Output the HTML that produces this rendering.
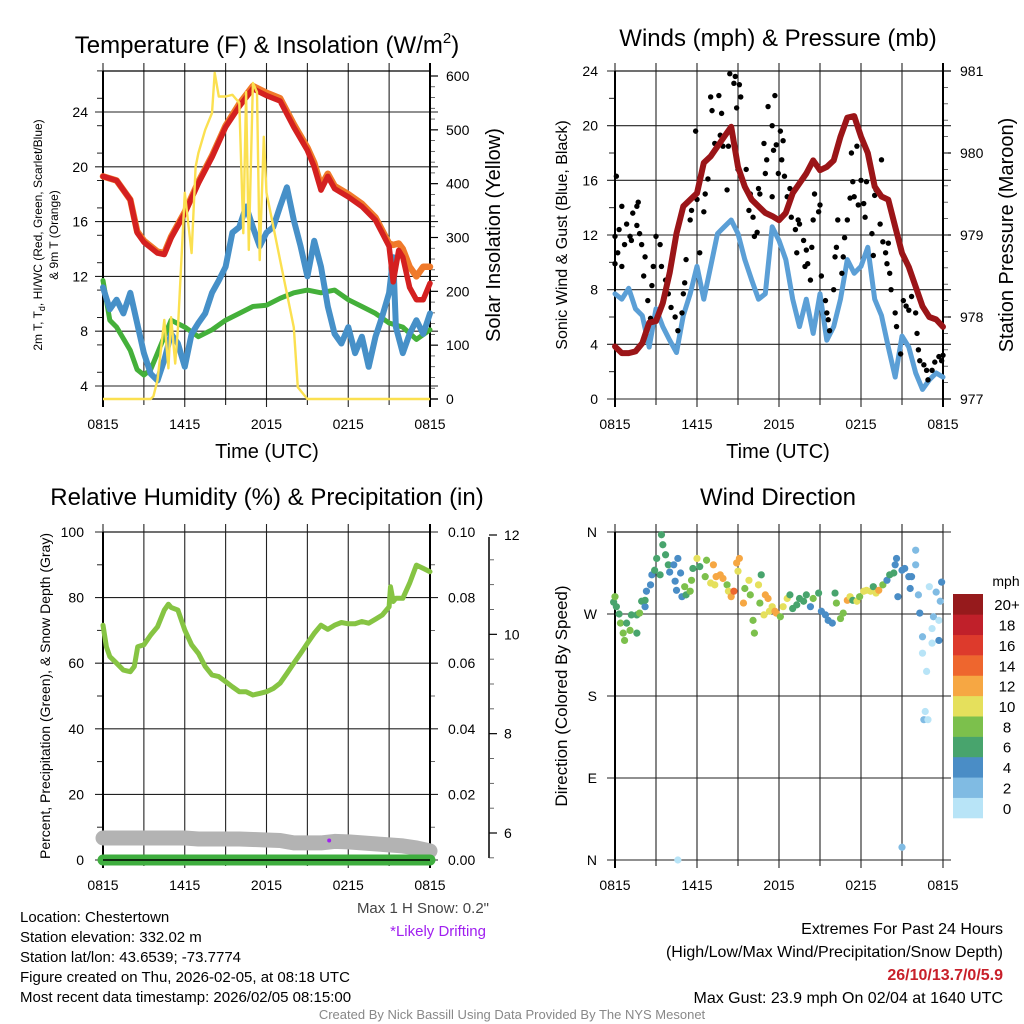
<!DOCTYPE html>
<html><head><meta charset="utf-8">
<style>
html,body{margin:0;padding:0;background:#fff;}
svg{display:block;font-family:"Liberation Sans",Arial,sans-serif;}
</style></head>
<body>
<svg id="fig" width="1024" height="1024" viewBox="0 0 1024 1024" xmlns="http://www.w3.org/2000/svg">
<rect width="1024" height="1024" fill="#fff"/>
<g id="p1"></g>
<g id="p2"></g>
<g id="p3"></g>
<g id="p4"></g>
<g id="txt">
<text x="20" y="922" font-size="15">Location: Chestertown</text>
<text x="20" y="942" font-size="15">Station elevation: 332.02 m</text>
<text x="20" y="962" font-size="15">Station lat/lon: 43.6539; -73.7774</text>
<text x="20" y="982" font-size="15">Figure created on Thu, 2026-02-05, at 08:18 UTC</text>
<text x="20" y="1002" font-size="15">Most recent data timestamp: 2026/02/05 08:15:00</text>
<text x="489" y="913" font-size="15" fill="#444" text-anchor="end">Max 1 H Snow: 0.2"</text>
<text x="486" y="936" font-size="15" fill="#a020f0" text-anchor="end">*Likely Drifting</text>
<text x="1003" y="934" font-size="16" text-anchor="end">Extremes For Past 24 Hours</text>
<text x="1003" y="957" font-size="16" text-anchor="end">(High/Low/Max Wind/Precipitation/Snow Depth)</text>
<text x="1003" y="980" font-size="16" font-weight="bold" fill="#c8202a" text-anchor="end">26/10/13.7/0/5.9</text>
<text x="1003" y="1003" font-size="16" text-anchor="end">Max Gust: 23.9 mph On 02/04 at 1640 UTC</text>
<text x="512" y="1019" font-size="13" fill="#888" text-anchor="middle">Created By Nick Bassill Using Data Provided By The NYS Mesonet</text>
</g>
</svg>
<script>
// ---------- data ----------
const xTickLabels = ["0815","1415","2015","0215","0815"];
// Panel 1: temperature (F)
const tHours = [0,1,2,2.5,3,4,4.5,5,6,7,8,9,10,11,12,13,14,15,15.5,16,16.5,17,18,19,20,21,21.3,21.7,22,22.5,23,23.5,24];
const tempRed = [19.3,19.0,17.6,15.2,14.5,13.7,13.6,14.8,16.6,18.8,20.7,22.9,24.4,25.7,25.2,24.8,22.9,21.2,20.0,18.3,19.3,18.4,17.8,17.1,16.1,14.2,11.6,13.9,13.4,11.2,10.3,10.3,11.5];
const temp9m = [19.3,19.0,17.6,15.3,14.6,13.8,13.7,14.9,16.7,18.9,20.8,23.0,24.6,25.9,25.4,25.0,23.1,21.4,20.3,18.6,19.5,18.6,18.0,17.3,16.3,14.4,14.3,14.4,14.0,12.7,12.0,12.7,12.7];
const dHours = [0,0.5,1,2,2.5,3,3.5,4,5,6,7,8,9,10,11,12,13,14,15,16,17,18,19,20,21,22,23,24];
const dewGreen = [11.7,8.8,8.3,6.6,5.2,4.8,5.2,6.4,8.8,8.3,7.6,8.1,8.8,9.3,9.8,9.9,10.4,10.8,11.0,10.8,11.0,10.3,9.8,9.3,8.6,8.3,7.4,8.1];
const wcHours = [0,0.5,1,1.5,2,2.5,3,3.5,4,4.5,5,5.5,6,6.5,7,7.5,8,8.5,9,9.5,10,10.5,11,11.5,12,12.5,13,13.5,14,14.5,15,15.5,16,16.5,17,17.5,18,18.5,19,19.5,20,20.5,21,21.3,21.5,22,22.5,23,23.5,24];
const wcBlue = [11.2,9.6,10.3,9.3,10.8,8.6,6.4,4.9,4.4,5.9,7.8,7.1,5.4,7.8,8.6,9.3,10.8,11.7,12.7,15.2,15.6,17.1,15.6,14.2,15.2,15.6,17.1,18.5,16.1,14.2,12.0,14.6,12.7,9.8,7.8,7.1,8.3,6.4,7.6,5.4,7.6,9.1,10.8,13.4,8.3,6.4,7.8,8.8,7.8,9.3];
const solHours = [0,3.5,3.7,4,4.5,4.8,5,5.3,5.5,6,6.5,6.8,7,7.5,8,8.2,8.5,9,9.5,10,10.3,10.5,10.7,11,11.3,11.5,11.8,12,13,14,14.3,15,24];
const solar = [0,0,5,35,147,57,152,66,130,383,271,431,457,500,531,606,562,562,565,550,308,570,277,587,570,258,487,383,258,133,22,0,0];
const p1Left = [4,8,12,16,20,24];
const p1Right = [0,100,200,300,400,500,600];
// Panel 2: wind (mph) & pressure (mb)
const pHours = [0,0.5,1,1.5,2,2.5,3,3.5,4,4.5,5,5.5,6,6.5,7,7.5,8,8.5,9,9.5,10,10.5,11,11.5,12,12.5,13,13.5,14,14.5,15,15.5,16,16.5,17,17.5,18,18.5,19,19.5,20,20.5,21,21.5,22,22.5,23,23.5,24];
const pressure = [977.64,977.56,977.56,977.58,977.68,977.93,977.95,978.17,978.54,979.02,979.35,979.43,979.51,979.88,979.96,980.08,980.2,980.32,979.83,979.59,979.43,979.35,979.27,979.23,979.18,979.27,979.51,979.63,979.75,979.91,979.79,979.83,979.91,980.2,980.43,980.45,980.2,980.0,979.59,979.47,979.43,979.1,978.78,978.61,978.37,978.13,978.0,977.97,977.88];
const windSonic = [7.7,7.3,8.1,6.6,6.1,3.8,6.6,5.3,4.3,3.4,6.1,7.7,9.7,7.3,9.7,12.1,12.6,13.1,12.1,10.2,8.7,7.3,7.7,12.6,11.6,10.2,7.3,5.3,7.3,4.8,7.7,4.3,5.3,7.3,10.2,9.2,9.7,11.1,7.3,6.1,3.8,1.6,4.6,3.8,1.9,0.7,1.4,1.9,1.6];
const gustHours = [0,0.1,0,0.2,0.3,0.5,0.5,0.7,0.85,1.1,1.2,1.3,1.6,1.7,1.6,1.95,1.8,2.2,2.1,2.4,2.6,2.7,3.0,2.8,3.3,3.4,3.7,3.9,4.1,4.4,4.6,4.9,5.0,5.1,5.2,5.5,5.6,5.9,6.0,6.2,6.5,6.6,6.8,7.0,7.1,7.3,7.6,7.7,7.8,7.9,8.2,8.3,8.5,8.4,8.7,8.8,8.9,9.1,9.2,8.8,9.0,9.6,9.8,9.9,10.1,10.2,10.4,10.5,10.6,10.9,11.0,11.1,11.2,11.5,11.5,11.6,11.7,11.8,11.95,12.1,12.2,12.3,12.4,12.6,12.8,12.9,13.2,13.3,13.4,13.5,13.8,13.9,14.0,14.1,14.3,14.4,14.5,14.6,14.9,15.0,15.1,15.4,15.5,15.6,15.7,16.0,16.1,16.2,16.3,16.6,16.7,16.8,17.0,17.2,17.3,17.4,17.5,17.7,17.8,18.0,18.2,18.3,18.4,18.7,18.8,18.9,19.0,19.1,19.4,19.5,19.6,19.8,19.9,20.0,20.1,20.2,20.5,20.6,20.9,21.1,21.3,21.5,21.7,22.0,22.1,22.2,22.3,22.6,22.8,22.9,23.2,23.4,23.7,23.9,24.0];
const gusts = [9.9,16.3,11.9,10.7,12.4,9.7,14.1,11.3,12.8,11.9,11.6,13.6,14.1,14.4,12.7,11.3,12.1,10.4,9.0,7.2,5.9,8.3,11.9,9.7,11.3,9.7,8.7,7.7,6.7,6.0,5.0,6.3,7.7,8.5,10.2,13.1,13.8,19.6,14.6,10.7,13.7,15.0,16.1,22.1,21.1,18.7,22.2,19.3,20.9,18.5,15.3,18.5,19.9,23.8,23.1,23.6,21.3,23.0,22.1,18.3,16.8,16.8,13.8,15.0,13.3,11.9,12.2,15.4,15.0,18.7,16.5,17.5,21.4,20.0,14.8,18.2,22.2,18.6,16.5,19.6,17.5,18.9,16.3,14.8,15.4,13.3,12.4,10.7,13.1,12.8,11.6,9.7,10.9,9.9,8.7,11.1,13.1,15.0,13.7,14.2,9.0,7.2,6.3,5.8,5.0,8.0,10.4,11.1,13.1,9.2,10.4,11.8,13.1,14.7,18.0,15.9,14.8,18.5,14.2,16.0,14.3,13.3,15.9,17.0,12.1,10.5,14.9,15.3,12.8,17.5,11.5,10.7,9.9,11.4,9.2,8.0,6.3,5.3,3.3,7.2,6.8,6.5,7.5,6.3,4.8,3.6,2.8,2.5,2.1,1.4,2.1,2.7,3.1,2.8,3.2];
const p2Left = [0,4,8,12,16,20,24];
const p2Right = [977,978,979,980,981];
// Panel 3: RH (%), precip (in), snow depth (in)
const rhHours = [0,0.25,0.5,1,1.5,2,2.3,2.55,3,3.5,4,4.5,4.8,5,5.5,6,6.5,7,7.5,8,8.5,9,9.5,10,10.5,11,11.5,12,12.5,13,13.5,14,14.5,15,15.5,16,16.5,17,17.5,18,18.5,19,19.5,20,20.5,21,21.1,21.3,21.5,22,22.5,23,23.5,24];
const rh = [71.6,65.0,62,60,57.9,57.4,59,65,65.6,68.6,71.1,76.2,78,77,76.2,70.1,65.6,63,59,56.4,55.9,54.4,52.8,51.3,51.3,50.3,50.8,51.3,52.3,53.9,56.9,60,63,66.1,69.1,71.6,70.3,71.6,72.4,72,72,72.7,72.2,73.4,74.7,77.2,83.3,78.8,79.8,79.8,84.4,89.9,88.9,87.9];
const snowHours = [0,1,2,3,4,5,6,7,8,9,10,11,12,13,14,15,16,17,18,19,20,21,22,23,24];
const snowDepth = [5.9,5.9,5.9,5.9,5.9,5.9,5.9,5.88,5.88,5.88,5.88,5.87,5.86,5.85,5.8,5.8,5.8,5.83,5.82,5.8,5.78,5.76,5.74,5.7,5.64];
const precipHours = [0,24];
const precip = [0,0];
const driftHour = [16.6];
const driftDepth = [5.85];
const p3Left = [0,20,40,60,80,100];
const p3Right = ["0.00","0.02","0.04","0.06","0.08","0.10"];
const p3Snow = [6,8,10,12];
// Panel 4: wind direction (deg) coloured by speed (mph)
const dirHours = [-0.1,0,0.1,0.3,0.4,0.6,0.7,0.85,1.1,1.2,1.6,1.6,1.8,1.95,2.2,2.2,2.3,2.6,2.7,2.9,3.05,3.3,3.4,3.5,3.7,3.9,4.0,4.3,4.4,4.6,4.5,4.9,4.8,5.1,5.2,5.5,5.6,5.7,6.0,6.2,6.6,6.7,7.0,7.2,7.3,7.4,7.7,7.9,8.2,8.3,8.5,8.7,8.9,9.1,9.0,9.4,9.5,9.8,9.9,10.1,10.2,10.5,10.7,10.6,11.0,11.2,11.3,11.5,10.9,11.7,11.8,12.1,12.3,12.6,12.8,13.0,13.3,13.5,13.8,14.0,14.3,14.5,14.9,15.1,15.4,15.6,15.9,16.1,16.2,16.5,16.7,17.0,17.2,17.4,17.7,17.9,18.2,18.4,18.7,18.9,19.1,19.3,19.6,19.9,20.1,20.4,20.5,20.6,20.7,21.0,21.2,21.5,21.7,21.6,22.0,22.0,22.2,22.3,22.5,22.5,22.8,22.7,22.6,22.9,23.0,23.2,23.3,23.2,23.5,23.7,23.7,23.8,23.9,21.0,4.6];
const dirDeg = [283,289,278,270,260,249,241,260,252,269,269,249,271,284,278,285,295,302,313,318,331,313,357,346,335,324,316,324,306,331,296,289,315,300,291,295,307,320,331,322,311,329,304,324,302,311,313,309,302,295,289,295,326,331,317,282,298,307,291,263,249,302,313,282,291,287,273,278,269,273,271,267,278,287,291,276,280,287,284,291,278,287,293,273,269,263,260,293,282,265,271,285,289,285,284,289,295,296,295,300,293,296,302,307,313,315,324,331,289,318,320,311,311,298,340,324,291,271,245,227,207,163,154,154,300,254,267,238,294,263,241,284,305,14,0];
const dirSpeed = [7,9,7,7,9,9,9,7,9,7,7,7,9,7,5,7,5,5,5,7,7,7,7,7,7,7,5,5,5,5,5,5,5,9,7,9,9,7,11,7,9,9,11,13,11,13,13,13,9,11,13,15,13,13,11,13,9,11,9,9,9,11,7,9,13,13,11,11,11,13,13,9,11,11,7,7,7,7,7,7,5,9,7,5,5,5,5,7,9,9,9,13,11,7,11,9,11,11,11,7,11,13,9,5,7,7,5,5,5,5,5,5,5,5,3,3,3,5,3,1,1,1,3,1,1,1,3,1,3,1,5,3,5,3,1];
const speedBins = ["0","2","4","6","8","10","12","14","16","18","20+"];
const speedColors = ["#b8e4f7","#80bbe3","#4a8dc6","#48a46d","#7cc04c","#e5e05c","#f6a743","#ee662e","#dd3a2c","#c0202a","#961a1c"];
const dirLabels = ["N","E","S","W","N"];
const dirTicks = [0,90,180,270,360];

// ---------- helpers ----------
const NS = "http://www.w3.org/2000/svg";
function mk(parent, tag, attrs, text) {
  const e = document.createElementNS(NS, tag);
  for (const k in attrs) e.setAttribute(k, attrs[k]);
  if (text !== undefined) e.textContent = text;
  parent.appendChild(e);
  return e;
}
function lin(d0, d1, r0, r1) { return v => r0 + (v - d0) * (r1 - r0) / (d1 - d0); }
function pathD(xs, ys, fx, fy) {
  return xs.map((x, i) => (i ? "L" : "M") + fx(x).toFixed(1) + "," + fy(ys[i]).toFixed(1)).join("");
}

function frame(g, L, R, T, B, xs, name) {
  for (let h = 0; h <= 24; h += 3) {
    const x = xs(h);
    const gl = mk(g, "line", {x1: x, x2: x, y1: T - 8, y2: B + (h % 6 === 0 ? 8 : 6), stroke: "#222", "stroke-width": 1.1});
    
    
  }
  const bt = mk(g, "line", {x1: L, x2: R, y1: T, y2: T, stroke: "#000", "stroke-width": 1.3});
  
  
  xTickLabels.forEach((lab, i) => {
    const t = mk(g, "text", {x: xs(i * 6), y: B + 30, "font-size": 14, "text-anchor": "middle"}, lab);
    
    
  });
}
function hgrid(g, L, R, y, name) {
  const l = mk(g, "line", {x1: L - 8, x2: R + 8, y1: y, y2: y, stroke: "#222", "stroke-width": 1.1});
  
  
}
function label(g, x, y, s, txt, name, rot, anchor, extra) {
  const a = {x: x, y: y, "font-size": s, "text-anchor": anchor || "middle"};
  if (rot) a.transform = "rotate(-90 " + x + " " + y + ")";
  const t = mk(g, "text", Object.assign(a, extra || {}), txt);
  
  
  return t;
}

// ---------- Panel 1 ----------
(function () {
  const g = document.getElementById("p1");
  const L = 103, R = 430, T = 71, B = 399;
  const xs = lin(0, 24, L, R);
  const yT = lin(4, 24, 386, 112);
  const yS = lin(0, 600, 399, 76);
  frame(g, L, R, T, B, xs, "temperature");
  p1Left.forEach(v => {
    hgrid(g, L, R, yT(v), 'temp-gridline');
    label(g, 88, yT(v) + 5, 14, String(v), 'temp-y-tick-label', false, "end");
  });
  for (let v = 5; v <= 27; v += 2) { const t = mk(g, "line", {x1: L - 6, x2: L, y1: yT(v), y2: yT(v), stroke: "#222"});   }
  p1Right.forEach(v => {
    const t = mk(g, "line", {x1: R, x2: R + 8, y1: yS(v), y2: yS(v), stroke: "#000", "stroke-width": 1.2});
    
    
    label(g, 446, yS(v) + 5, 14, String(v), 'solar-y-tick-label', false, "start");
  });
  for (let v = 20; v < 610; v += 20) { if (v % 100) { const t = mk(g, "line", {x1: R, x2: R + 5, y1: yS(v), y2: yS(v), stroke: "#444", "stroke-width": 0.8});   } }
  const ax = mk(g, "line", {x1: L, x2: L, y1: T, y2: B + 8, stroke: "#000", "stroke-width": 2});
   
  const ax2 = mk(g, "line", {x1: R, x2: R, y1: T - 8, y2: B + 8, stroke: "#000", "stroke-width": 2});
   
  const ax3 = mk(g, "line", {x1: L, x2: R + 8, y1: B, y2: B, stroke: "#000", "stroke-width": 1.2});
   

  let p;
  p = mk(g, "path", {d: pathD(dHours, dewGreen, xs, yT), fill: "none", stroke: "#44b03a", "stroke-width": 5, "stroke-linejoin": "round", "stroke-linecap": "round"});
   
  p = mk(g, "path", {d: pathD(wcHours, wcBlue, xs, yT), fill: "none", stroke: "#4690c8", "stroke-width": 6, "stroke-linejoin": "round", "stroke-linecap": "round"});
   
  p = mk(g, "path", {d: pathD(tHours, temp9m, xs, yT), fill: "none", stroke: "#f07a2a", "stroke-width": 6.5, "stroke-linejoin": "round", "stroke-linecap": "round"});
   
  p = mk(g, "path", {d: pathD(tHours, tempRed, xs, yT), fill: "none", stroke: "#d42020", "stroke-width": 5.5, "stroke-linejoin": "round", "stroke-linecap": "round"});
   
  p = mk(g, "path", {d: pathD(solHours, solar, xs, yS), fill: "none", stroke: "#fbe050", "stroke-width": 2.4, "stroke-linejoin": "round"});
   

  const tt = label(g, 267, 53, 24, "Temperature (F) & Insolation (W/m", 'temperature-title');
  const sup = mk(tt, "tspan", {dy: -10, "font-size": 15}, "2");  
  const cl = mk(tt, "tspan", {dy: 10}, ")");  
  label(g, 267, 458, 20, "Time (UTC)", 'temp-x-axis-title');
  const yl = label(g, 42, 235, 12, "2m T, T", 'temp-y-axis-title-1', true);
  const sb = mk(yl, "tspan", {dy: 3, "font-size": 9}, "d");  
  const rs = mk(yl, "tspan", {dy: -3}, ", HI/WC (Red, Green, Scarlet/Blue)");  
  label(g, 58, 235, 12, "& 9m T (Orange)", 'temp-y-axis-title-2', true);
  label(g, 500, 235, 20, "Solar Insolation (Yellow)", 'solar-y-axis-title', true);
})();

// ---------- Panel 2 ----------
(function () {
  const g = document.getElementById("p2");
  const L = 615, R = 943, T = 71, B = 399;
  const xs = lin(0, 24, L, R);
  const yW = lin(0, 24, 399, 71);
  const yP = lin(977, 981, 399, 71);
  frame(g, L, R, T, B, xs, "wind");
  p2Left.forEach(v => {
    hgrid(g, L, R, yW(v), 'wind-gridline');
    label(g, 598, yW(v) + 5, 14, String(v), 'wind-y-tick-label', false, "end");
  });
  for (let v = 2; v < 24; v += 4) { const t = mk(g, "line", {x1: L - 6, x2: L, y1: yW(v), y2: yW(v), stroke: "#222"});   }
  p2Right.forEach(v => {
    const t = mk(g, "line", {x1: R, x2: R + 8, y1: yP(v), y2: yP(v), stroke: "#000", "stroke-width": 1.2});
     
    label(g, 960, yP(v) + 5, 14, String(v), 'pressure-y-tick-label', false, "start");
  });
  for (let v = 977.2; v < 981; v += 0.2) { const t = mk(g, "line", {x1: R, x2: R + 5, y1: yP(v), y2: yP(v), stroke: "#444", "stroke-width": 0.8});   }
  const ax = mk(g, "line", {x1: L, x2: L, y1: T, y2: B + 8, stroke: "#000", "stroke-width": 2});
   
  const ax2 = mk(g, "line", {x1: R, x2: R, y1: T - 8, y2: B + 8, stroke: "#000", "stroke-width": 2});
   

  let p = mk(g, "path", {d: pathD(pHours, windSonic, xs, yW), fill: "none", stroke: "#5b9fd6", "stroke-width": 5, "stroke-linejoin": "round", "stroke-linecap": "round"});
   
  gustHours.forEach((h, i) => {
    const c = mk(g, "circle", {cx: xs(h), cy: yW(gusts[i]), r: 2.7, fill: "#000"});
    
    
  });
  p = mk(g, "path", {d: pathD(pHours, pressure, xs, yP), fill: "none", stroke: "#9b1518", "stroke-width": 6, "stroke-linejoin": "round", "stroke-linecap": "round"});
   

  label(g, 778, 46, 24, "Winds (mph) & Pressure (mb)", 'wind-title');
  label(g, 778, 458, 20, "Time (UTC)", 'wind-x-axis-title');
  label(g, 567, 235, 16, "Sonic Wind & Gust (Blue, Black)", 'wind-y-axis-title', true);
  label(g, 1013, 235, 20, "Station Pressure (Maroon)", 'pressure-y-axis-title', true);
})();

// ---------- Panel 3 ----------
(function () {
  const g = document.getElementById("p3");
  const L = 103, R = 430, T = 532, B = 860;
  const xs = lin(0, 24, L, R);
  const yR = lin(0, 100, 860, 532);
  const yD = lin(6, 12, 833, 535);
  frame(g, L, R, T, B, xs, "humidity");
  p3Left.forEach((v, i) => {
    hgrid(g, L, R, yR(v), 'rh-gridline');
    label(g, 84, yR(v) + 5, 14, String(v), 'rh-y-tick-label', false, "end");
    label(g, 448, yR(v) + 5, 14, p3Right[i], 'precip-y-tick-label', false, "start");
  });
  for (let v = 10; v < 100; v += 10) { if (v % 20) { const t = mk(g, "line", {x1: L - 6, x2: L, y1: yR(v), y2: yR(v), stroke: "#222"});  
    const t2 = mk(g, "line", {x1: R, x2: R + 5, y1: yR(v), y2: yR(v), stroke: "#444", "stroke-width": 0.8});   } }
  const sa = mk(g, "line", {x1: 489, x2: 489, y1: 537, y2: 858, stroke: "#000", "stroke-width": 1.5});
   
  p3Snow.forEach(v => {
    const t = mk(g, "line", {x1: 489, x2: 497, y1: yD(v), y2: yD(v), stroke: "#000", "stroke-width": 1.2});
     
    label(g, 504, yD(v) + 5, 14, String(v), 'snow-depth-tick-label', false, "start");
  });
  for (let v = 5.5; v < 12; v += 0.5) { if (v % 2) { const t = mk(g, "line", {x1: 489, x2: 494, y1: yD(v), y2: yD(v), stroke: "#444", "stroke-width": 0.8});   } }
  const ax = mk(g, "line", {x1: L, x2: L, y1: T, y2: B + 8, stroke: "#000", "stroke-width": 2});
   
  const ax2 = mk(g, "line", {x1: R, x2: R, y1: T - 8, y2: B + 8, stroke: "#000", "stroke-width": 2});
   

  let p = mk(g, "path", {d: pathD(snowHours, snowDepth, xs, yD), fill: "none", stroke: "#b3b3b3", "stroke-width": 15, "stroke-linejoin": "round", "stroke-linecap": "round"});
   
  p = mk(g, "path", {d: pathD(precipHours, precip, xs, v => yR(v * 1000)), fill: "none", stroke: "#3fae3f", "stroke-width": 11, "stroke-linecap": "round"});
   
  const bl = mk(g, "line", {x1: L, x2: R, y1: B, y2: B, stroke: "#000", "stroke-width": 1.5});
   
  p = mk(g, "path", {d: pathD(rhHours, rh, xs, yR), fill: "none", stroke: "#86c443", "stroke-width": 5, "stroke-linejoin": "round", "stroke-linecap": "round"});
   
  driftHour.forEach((h, i) => {
    const c = mk(g, "circle", {cx: xs(h), cy: yD(driftDepth[i]), r: 2, fill: "#a020f0"});
     
  });
  label(g, 267, 505, 24, "Relative Humidity (%) & Precipitation (in)", 'humidity-title');
  label(g, 50, 696, 14, "Percent, Precipitation (Green), & Snow Depth (Gray)", 'rh-y-axis-title', true);
})();

// ---------- Panel 4 ----------
(function () {
  const g = document.getElementById("p4");
  const L = 615, R = 943, T = 532, B = 860;
  const xs = lin(0, 24, L, R);
  const yD = lin(0, 360, 860, 532);
  frame(g, L, R, T, B, xs, "direction");
  dirTicks.forEach((v, i) => {
    hgrid(g, L, R, yD(v), 'direction-gridline');
    label(g, 597, yD(v) + 5, 14, dirLabels[i], 'direction-tick-label', false, "end");
  });
  const ax = mk(g, "line", {x1: L, x2: L, y1: T, y2: B + 8, stroke: "#000", "stroke-width": 2});
   
  dirHours.forEach((h, i) => {
    const bin = Math.min(10, Math.max(0, Math.floor(dirSpeed[i] / 2)));
    const c = mk(g, "circle", {cx: xs(h), cy: yD(dirDeg[i]), r: 3.6, fill: speedColors[bin]});
    
    
  });
  const cbTop = 594, cbH = 224 / 11;
  speedBins.forEach((lab, i) => {
    const y = cbTop + (10 - i) * cbH;
    const r = mk(g, "rect", {x: 953, y: y, width: 30, height: cbH + 0.3, fill: speedColors[i]});
    
    
    label(g, 1007, y + cbH / 2 + 6, 15, lab, 'colorbar-label');
  });
  label(g, 1006, 586, 14, "mph", 'colorbar-title');
  label(g, 778, 505, 24, "Wind Direction", 'direction-title');
  label(g, 567, 696, 17, "Direction (Colored By Speed)", 'direction-y-axis-title', true);
})();
</script>
</body></html>
